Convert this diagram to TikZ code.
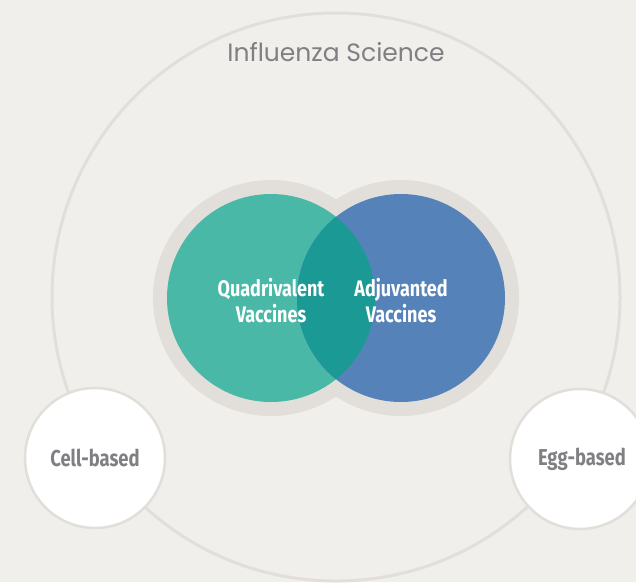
\documentclass[tikz,border=0pt]{standalone}
\usepackage{fontspec}
\setmainfont{Fira Sans}
\newfontfamily\titlefont{Poppins}
\newfontfamily\vennfont[FakeStretch=0.8]{Fira Sans}

\definecolor{bgcream}{HTML}{F0EFEB}
\definecolor{ringgray}{HTML}{E2DFDA}
\definecolor{quadgreen}{HTML}{4AB8A7}
\definecolor{adjublue}{HTML}{5583B9}
\definecolor{overlapteal}{HTML}{1A9995}
\definecolor{labelgray}{HTML}{808084}

\tikzset{
    titletext/.style={text=labelgray, font=\titlefont\fontsize{25}{30}\selectfont},
    venntext/.style={text=white, align=center, font=\vennfont\bfseries\fontsize{22.5}{26}\selectfont},
    sidetext/.style={text=labelgray, font=\vennfont\bfseries\fontsize{23}{26}\selectfont},
    sidecircle/.style={fill=white, draw=ringgray, line width=2.5pt},
}

\begin{document}
\begin{tikzpicture}[x=1pt,y=-1pt]
    \fill[bgcream] (0,0) rectangle (636,582);
    \useasboundingbox (0,0) rectangle (636,582);
    \coordinate (o) at (336,297);
    \coordinate (q) at (271,298);
    \coordinate (a) at (401,298);
    \coordinate (c) at (95,458);
    \coordinate (e) at (580,459);

    % outer ring
    \draw[ringgray, line width=3pt] (o) circle (284pt);
    \node[titletext] (title) at (336,52) {Influenza Science};

    % venn halos and circles
    \fill[ringgray] (q) circle (118pt) (a) circle (118pt);
    \fill[quadgreen] (q) circle (104pt);
    \fill[adjublue] (a) circle (104pt);
    \begin{scope}
        \clip (q) circle (104pt);
        \fill[overlapteal] (a) circle (104pt);
    \end{scope}
    \node[venntext] (quad) at ([yshift=-3pt]q) {Quadrivalent\\Vaccines};
    \node[venntext] (adju) at ([yshift=-3pt]a) {Adjuvanted\\Vaccines};

    % side circles
    \draw[sidecircle] (c) circle (70pt);
    \draw[sidecircle] (e) circle (70pt);
    \node[sidetext] (cell) at (c) {Cell-based};
    \node[sidetext] (egg) at ([xshift=2pt]e) {Egg-based};
\end{tikzpicture}
\end{document}
